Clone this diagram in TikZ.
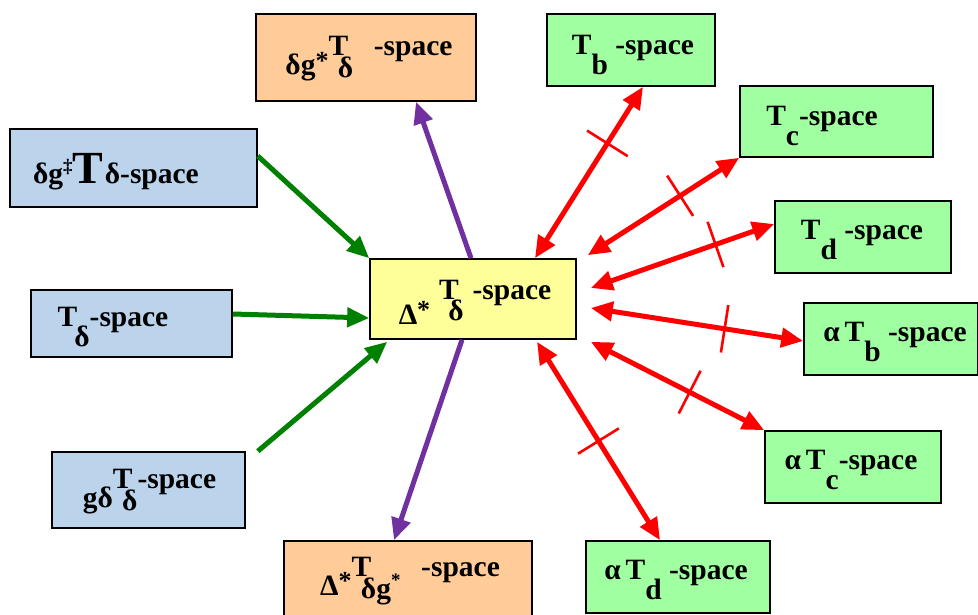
\documentclass[tikz,border=0pt]{standalone}
\usepackage{fontspec}
\setmainfont{Liberation Serif}
\usetikzlibrary{arrows.meta,calc}
\definecolor{bluefill}{HTML}{BCD3EC}
\definecolor{greenfill}{HTML}{A0FFA0}
\definecolor{yellowfill}{HTML}{FFFF99}
\definecolor{orangefill}{HTML}{FFCC99}
\definecolor{arrgreen}{HTML}{008000}
\definecolor{arrpurple}{HTML}{7030A0}
\newcommand\mydn[1]{\raisebox{-0.65em}{#1}}
\newcommand\mydeep[1]{\raisebox{-0.85em}{#1}}
\newcommand\myhi[1]{\raisebox{0.4em}{\fontsize{19}{21}\selectfont #1}}
\newcommand\mystar{\raisebox{0.2em}{\fontsize{26}{28}\selectfont *}}
\newcommand\Tsub[1]{T\hspace{-0.35em}\raisebox{-0.74em}{#1}}
\begin{document}
\begin{tikzpicture}[x=1pt,y=-1pt,
  box/.style={draw=black, line width=1.6pt, inner sep=0pt},
  lbl/.style={font=\fontsize{29.5}{33}\selectfont\bfseries, inner sep=0pt},
  tick/.style={draw=red, line width=2.6pt, shape=rectangle, minimum width=0pt, minimum height=48pt, inner sep=0pt, sloped},
  garr/.style={draw=arrgreen, line width=5pt, -{Triangle[length=22pt,width=19pt]}},
  parr/.style={draw=arrpurple, line width=5pt, -{Triangle[length=22pt,width=19pt]}},
  rarr/.style={draw=red, line width=5pt, {Triangle[length=22pt,width=19pt]}-{Triangle[length=22pt,width=19pt]}}]
\useasboundingbox (0,0) rectangle (978,615);

% boxes
\node[box, fill=orangefill, minimum width=220pt, minimum height=87pt] (b1) at (366,57.5) {};
\node[box, fill=greenfill, minimum width=168pt, minimum height=72pt] (b2) at (631,50) {};
\node[box, fill=greenfill, minimum width=193pt, minimum height=71pt] (b3) at (836.5,121.5) {};
\node[box, fill=greenfill, minimum width=176pt, minimum height=72pt] (b4) at (863,237) {};
\node[box, fill=greenfill, minimum width=174pt, minimum height=72pt] (b5) at (891,339) {};
\node[box, fill=greenfill, minimum width=176pt, minimum height=72pt] (b6) at (853,467) {};
\node[box, fill=greenfill, minimum width=184pt, minimum height=72pt] (b7) at (678,577) {};
\node[box, fill=orangefill, minimum width=248pt, minimum height=84pt] (b8) at (408,583) {};
\node[box, fill=yellowfill, minimum width=206pt, minimum height=80pt] (c) at (473,299) {};
\node[box, fill=bluefill, minimum width=247pt, minimum height=78pt] (b10) at (133.5,168) {};
\node[box, fill=bluefill, minimum width=201pt, minimum height=67pt] (b11) at (131.5,323.5) {};
\node[box, fill=bluefill, minimum width=193pt, minimum height=76pt] (b12) at (148.5,490) {};

% labels
\node[lbl] (l1) at (369,59) {\mydn{δg\mystar}\Tsub{δ}\hspace{0.7em}-space};
\node[lbl] (l2) at (633,55) {T\mydn{b} -space};
\node[lbl] (l3) at (822,126) {T\mydn{c}-space};
\node[lbl] (l4) at (862,240) {T\mydn{d} -space};
\node[lbl] (l5) at (895,342) {α\,T\mydn{b} -space};
\node[lbl] (l6) at (851,470) {α\,T\mydn{c}-space};
\node[lbl] (l7) at (676,580) {α\,T\mydn{d} -space};
\node[lbl] (l8) at (410,581) {\mydn{Δ\mystar}\Tsub{δg\myhi{*}}\hspace{0.7em}-space};
\node[lbl] (lc) at (475,302) {\mydeep{Δ\mystar}\hspace{0.3em}\Tsub{δ}\hspace{0.3em}-space};
\node[lbl] (l10) at (116,172) {δg\myhi{‡}{\fontsize{46}{48}\selectfont T}\hspace{0.05em}δ-space};
\node[lbl] (l11) at (113,327) {T\hspace{-0.1em}\mydn{δ}-space};
\node[lbl] (l12) at (149.5,492) {\mydn{gδ}\Tsub{δ}-space};

% green arrows
\draw[garr] ([yshift=12pt]b10.east) -- (c.north west);
\draw[garr] ([yshift=9.5pt]b11.east) -- ([yshift=-19pt]c.west);
\coordinate (g3s) at ([xshift=12pt]b12.north east);
\draw[garr] (g3s) -- ([xshift=18pt,yshift=-2pt]c.south west);

% purple arrows
\draw[parr] ([xshift=-2pt]c.north) -- ([xshift=50pt]b1.south);
\draw[parr] ([xshift=-11pt]c.south) -- ([xshift=-14pt]b8.north);

% red arrows
\draw[rarr] ([xshift=62pt]c.north) -- node[tick, pos=0.67]{} ([xshift=12pt]b2.south);
\draw[rarr] ([xshift=11pt,yshift=3pt]c.north east) -- node[tick, pos=0.61]{} (b3.south west);
\draw[rarr] ([xshift=14pt,yshift=11pt]c.east) -- node[tick, pos=0.68]{} ([yshift=13pt]b4.west);
\draw[rarr] ([xshift=14pt,yshift=-9pt]c.east) -- node[tick, pos=0.63]{} ([yshift=-2pt]b5.west);
\draw[rarr] ([xshift=14pt,yshift=-2pt]c.south east) -- node[tick, pos=0.57]{} (b6.north west);
\draw[rarr] ([xshift=64pt,yshift=-2pt]c.south) -- node[tick, pos=0.5]{} ([xshift=-18pt]b7.north);
\end{tikzpicture}
\end{document}
